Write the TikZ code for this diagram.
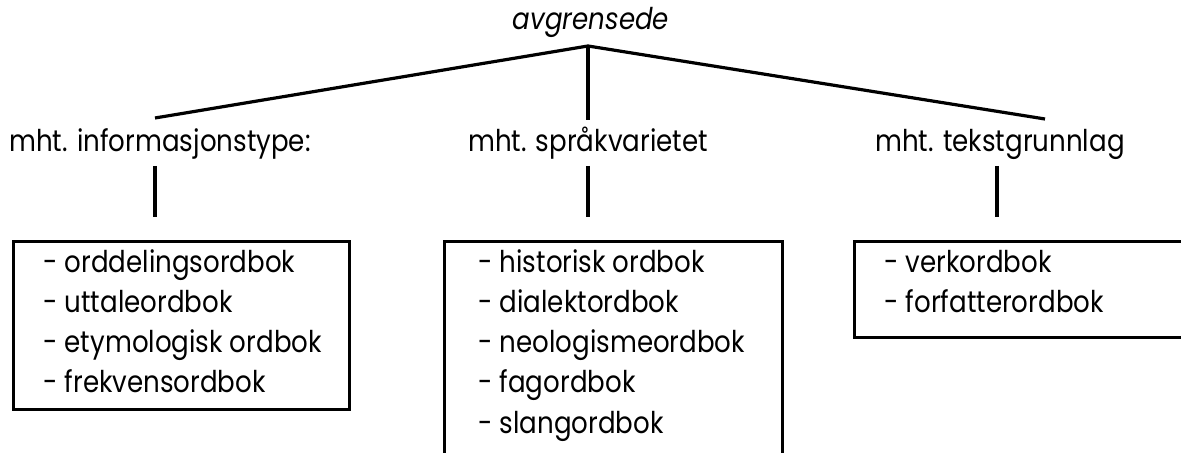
\documentclass[tikz,border=0pt]{standalone}
\usepackage{fontspec}
\setmainfont{Poppins}[FakeStretch=0.87]
\begin{document}
\begin{tikzpicture}[x=0.5pt,y=-0.5pt,
    every node/.style={font=\fontsize{15}{20}\selectfont, inner sep=0pt},
    boxframe/.style={draw, line width=1.6pt, anchor=north west},
    item/.style={anchor=base west},
    head/.style={anchor=base},
    link/.style={line width=1.6pt}]
  \useasboundingbox (0,0) rectangle (1181,453);
  \clip (0,0) rectangle (1181,453);
  \node[head, font=\fontsize{15}{20}\selectfont\itshape] (top) at (591,30) {avgrensede};
  \coordinate (apex) at (588,46);
  \coordinate (end1) at (155,118);
  \coordinate (end2) at (588,120);
  \coordinate (end3) at (1045,119);
  \node[head] (inf) at (160,152) {mht. informasjonstype:};
  \node[head] (spr) at (588,152) {mht. språkvarietet};
  \node[head] (tek) at (1000,152) {mht. tekstgrunnlag};
  \foreach \n/\x in {inf/155,spr/588,tek/997} {
    \coordinate (\n up) at (\x,166);
    \coordinate (\n down) at (\x,217);
    \draw[link] (\n up) -- (\n down);
  }
  \draw[link] (end1) -- (apex) -- (end3);
  \draw[link] (apex) -- (end2);
  \node[boxframe, minimum width=168pt, minimum height=84pt] (box1) at (12,240) {};
  \node[boxframe, minimum width=169pt, minimum height=120pt] (box2) at (443,240) {};
  \node[boxframe, minimum width=173.5pt, minimum height=48pt] (box3) at (853,240) {};
  \foreach \t [count=\i] in {orddelingsordbok,uttaleordbok,etymologisk ordbok,frekvensordbok}
    \node[item] (a\i) at (43,233+40*\i) {- \t};
  \foreach \t [count=\i] in {historisk ordbok,dialektordbok,neologismeordbok,fagordbok,slangordbok}
    \node[item] (b\i) at (478,233+40*\i) {- \t};
  \foreach \t [count=\i] in {verkordbok,forfatterordbok}
    \node[item] (c\i) at (884,233+40*\i) {- \t};
\end{tikzpicture}
\end{document}
